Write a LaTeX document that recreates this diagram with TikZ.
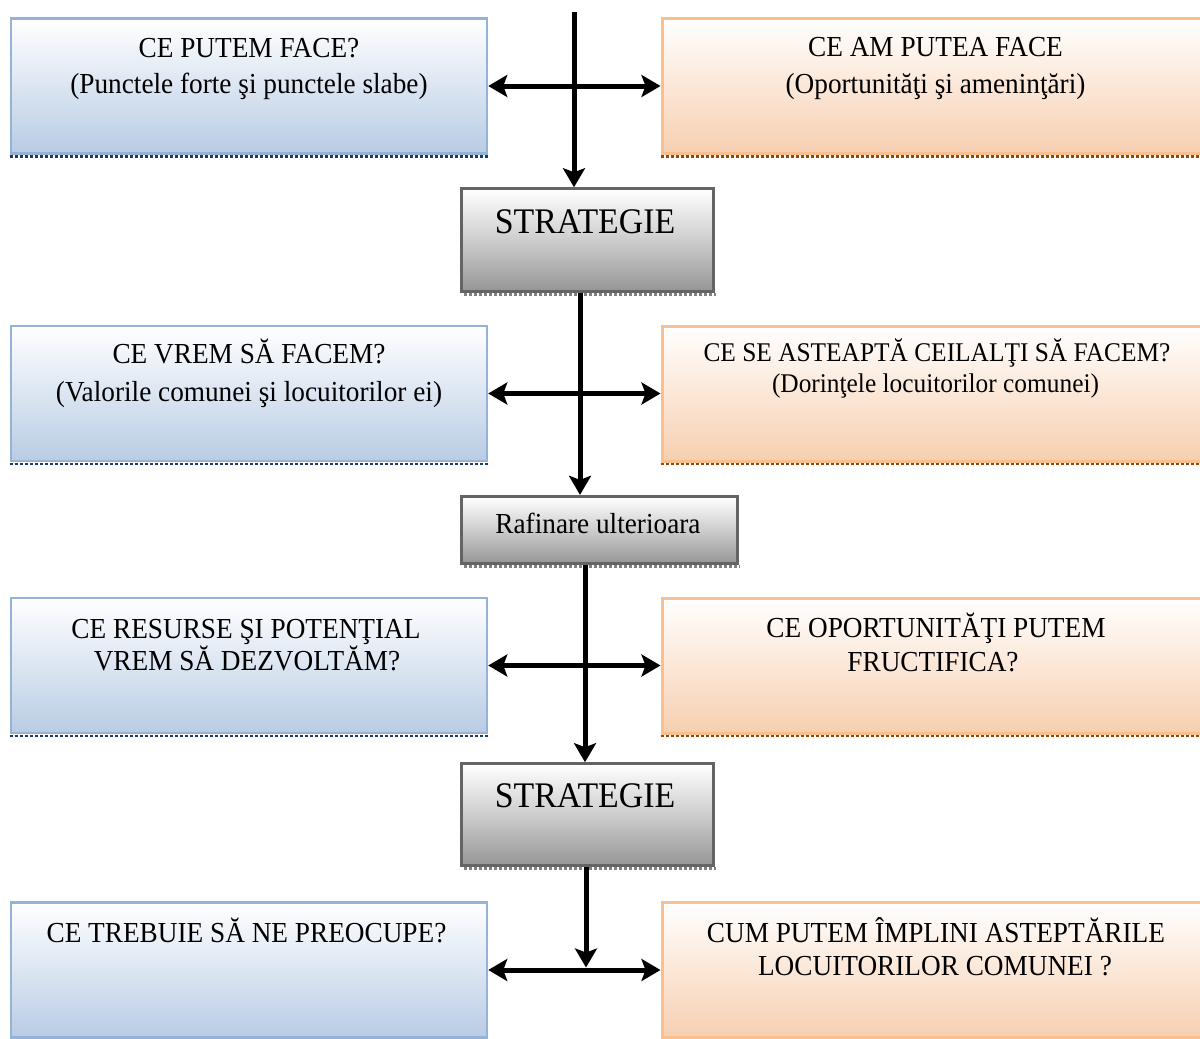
\documentclass[tikz,border=0pt]{standalone}
\usepackage{fontspec}
\setmainfont{Liberation Serif}[FakeStretch=0.94]
\usetikzlibrary{arrows.meta}
\definecolor{blueb}{RGB}{184,204,228}
\definecolor{blueline}{RGB}{149,179,215}
\definecolor{bluedot}{RGB}{31,56,100}
\definecolor{orangeb}{RGB}{247,207,176}
\definecolor{orangeline}{RGB}{250,191,143}
\definecolor{orangedot}{RGB}{152,72,6}
\definecolor{grayb}{RGB}{150,150,150}
\definecolor{graymid}{RGB}{205,205,205}
\definecolor{grayline}{RGB}{100,100,100}
\definecolor{graydot}{RGB}{128,128,128}
\begin{document}
\begin{tikzpicture}[x=1pt,y=-1pt,
  bluebox/.style={draw=blueline, line width=2.5pt, top color=white, bottom color=blueb,
    minimum width=476pt, minimum height=135pt, inner sep=0pt},
  orangebox/.style={draw=orangeline, line width=3pt, top color=white, bottom color=orangeb,
    minimum width=547pt, minimum height=135pt, inner sep=0pt},
  graybox/.style={draw=grayline, line width=3pt, top color=white, bottom color=grayb,
    middle color=graymid, inner sep=0pt},
  txt/.style={anchor=base, inner sep=0pt, font=\fontsize{29}{35}\selectfont},
  txtsmall/.style={anchor=base, inner sep=0pt, font=\fontsize{27}{32}\selectfont},
  txtbig/.style={anchor=base, inner sep=0pt, font=\fontsize{36}{42}\selectfont},
  bdot/.style={draw=bluedot, line width=2.5pt, dash pattern=on 3pt off 2pt},
  odot/.style={draw=orangedot, line width=2.5pt, dash pattern=on 3pt off 2pt},
  gdot/.style={draw=graydot, line width=3pt, dash pattern=on 3pt off 2pt},
  tip/.style={},
  arr/.style={line width=5pt, -{Stealth[length=19pt,width=22pt,inset=4pt]}},
  dbl/.style={line width=5pt, {Stealth[length=19pt,width=22pt,inset=4pt]}-{Stealth[length=19pt,width=22pt,inset=4pt]}}
]
\useasboundingbox (0,0) rectangle (1200,1039);
\clip (0,0) rectangle (1200,1039);
\fill[white] (0,0) rectangle (1200,1039);

% boxes
\node[bluebox] (b1) at (249,86) {};
\node[bluebox] (b2) at (249,393.5) {};
\node[bluebox] (b3) at (249,665.5) {};
\node[bluebox] (b4) at (249,970) {};
\node[orangebox] (o1) at (935.5,86) {};
\node[orangebox] (o2) at (935.5,393.5) {};
\node[orangebox] (o3) at (935.5,665.5) {};
\node[orangebox] (o4) at (935.5,970) {};
\node[graybox, minimum width=251.5pt, minimum height=102.3pt] (s1) at (587.25,239.9) {};
\node[graybox, minimum width=275.7pt, minimum height=66.7pt] (r1) at (599.2,529.7) {};
\node[graybox, minimum width=251.5pt, minimum height=101.6pt] (s2) at (587.25,814.5) {};

% dotted shadows
\foreach \n in {b1,b2,b3}{\draw[bdot] ([yshift=-1.5pt]\n.south west) -- ([yshift=-1.5pt]\n.south east);}
\foreach \n in {o1,o2,o3}{\draw[odot] ([yshift=-1.5pt]\n.south west) -- ([yshift=-1.5pt]\n.south east);}
\foreach \n in {s1,r1,s2}{\draw[gdot] ([xshift=4pt,yshift=-1.5pt]\n.south west) -- ([xshift=1pt,yshift=-1.5pt]\n.south east);}

% texts
\node[txt] (b1a) at (249,57) {CE PUTEM FACE?};
\node[txt] (b1b) at (249,93) {(Punctele forte şi punctele slabe)};
\node[txt] (o1a) at (935.5,56) {CE AM PUTEA FACE};
\node[txt] (o1b) at (935.5,93) {(Oportunităţi şi ameninţări)};
\node[txt] (b2a) at (249,363) {CE VREM SĂ FACEM?};
\node[txt] (b2b) at (249,401) {(Valorile comunei şi locuitorilor ei)};
\node[txtsmall] (o2a) at (937,361) {CE SE ASTEAPTĂ CEILALŢI SĂ FACEM?};
\node[txtsmall] (o2b) at (935.5,392) {(Dorinţele locuitorilor comunei)};
\node[txt] (b3a) at (246,638) {CE RESURSE ŞI POTENŢIAL};
\node[txt] (b3b) at (247,670) {VREM SĂ DEZVOLTĂM?};
\node[txt] (o3a) at (936,637) {CE OPORTUNITĂŢI PUTEM};
\node[txt] (o3b) at (933,671) {FRUCTIFICA?};
\node[txt] (b4a) at (246.5,942) {CE TREBUIE SĂ NE PREOCUPE?};
\node[txt] (o4a) at (936,942) {CUM PUTEM ÎMPLINI ASTEPTĂRILE};
\node[txt] (o4b) at (935,975) {LOCUITORILOR COMUNEI ?};
\node[txtbig] (s1t) at (585,233) {STRATEGIE};
\node[txt] (r1t) at (598,533) {Rafinare ulterioara};
\node[txtbig] (s2t) at (585,807) {STRATEGIE};

% connectors
\coordinate (top) at (574,12);
\coordinate (v2) at (580,0);
\coordinate (v3) at (585,0);
\coordinate (v4) at (586,0);
\draw[dbl] (b1.east) -- (o1.west);
\draw[dbl] (b2.east) -- (o2.west);
\draw[dbl] (b3.east) -- (o3.west);
\draw[dbl] (b4.east) -- (o4.west);
\draw[arr] (top) -- (top |- s1.north);
\draw[arr] (s1.south -| v2) -- (r1.north -| v2);
\draw[arr] (r1.south -| v3) -- (s2.north -| v3);
\draw[arr] (s2.south -| v4) -- ([yshift=2.5pt]b4.east -| v4);
\end{tikzpicture}
\end{document}
